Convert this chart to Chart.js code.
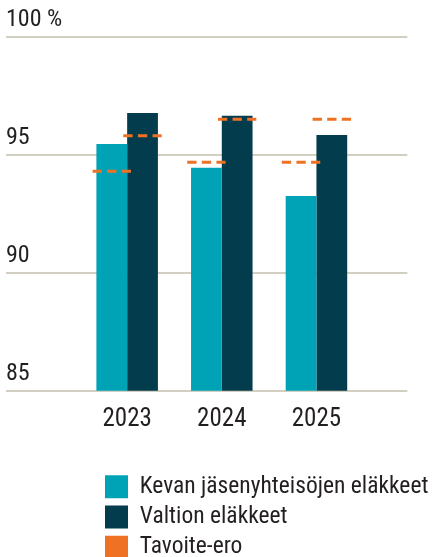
<!DOCTYPE html>
<html lang="fi">
<head>
<meta charset="utf-8">
<title>Eläkkeet</title>
<script src="https://cdn.jsdelivr.net/npm/chart.js@4.4.1/dist/chart.umd.min.js"></script>
<style>
  html, body { margin: 0; padding: 0; background: #fff; }
</style>
</head>
<body>
<canvas id="chart" width="438" height="557"></canvas>
<script>
const vuodet = [2023, 2024, 2025];
const kevaArvot = [95.45, 94.45, 93.25];
const valtioArvot = [96.77, 96.65, 95.83];
const kevaTavoite = [94.3, 94.68, 94.68];
const valtioTavoite = [95.8, 96.5, 96.5];
const yTicks = [85, 90, 95, 100];

const TURKOOSI = '#00a3b5';
const TUMMA = '#033c4c';
const ORANSSI = '#ef7123';
const RUUDUKKO = '#d4cfc3';
const FONTTI = 'Roboto';

Chart.defaults.color = '#231f20';

// tavoitteet katkoviivoina pylväiden kohdalle
const tavoiteViivat = {
  id: 'tavoiteViivat',
  afterDatasetsDraw(chart) {
    const ctx = chart.ctx;
    const y = chart.scales.y;
    ctx.save();
    ctx.strokeStyle = ORANSSI;
    ctx.lineWidth = 3;
    ctx.setLineDash([9.3, 5.3]);
    chart.data.datasets.forEach((ds, i) => {
      chart.getDatasetMeta(i).data.forEach((bar, j) => {
        const py = y.getPixelForValue(ds.tavoite[j]);
        ctx.beginPath();
        ctx.moveTo(bar.x - 19.2, py);
        ctx.lineTo(bar.x + 19.2, py);
        ctx.stroke();
      });
    });
    ctx.restore();
  }
};

// selite siirretään pylväiden alle
const selitteenPaikka = {
  id: 'selitteenPaikka',
  afterLayout(chart) {
    const lg = chart.legend;
    lg.left = 98.3;
    lg.top = 468.3;
    lg.right = chart.width;
    lg.bottom = chart.height + 60;
    lg.width = lg.right - lg.left;
    lg.height = lg.bottom - lg.top;
  }
};

new Chart(document.getElementById('chart'), {
  type: 'bar',
  data: {
    datasets: [
      {
        label: 'Kevan jäsenyhteisöjen eläkkeet',
        data: vuodet.map((x, i) => ({x, y: kevaArvot[i]})),
        tavoite: kevaTavoite,
        backgroundColor: TURKOOSI
      },
      {
        label: 'Valtion eläkkeet',
        data: vuodet.map((x, i) => ({x, y: valtioArvot[i]})),
        tavoite: valtioTavoite,
        backgroundColor: TUMMA
      }
    ]
  },
  options: {
    responsive: false,
    animation: false,
    categoryPercentage: 0.65,
    barPercentage: 1,
    layout: { padding: { top: 36.7, left: 5, right: 30.7, bottom: 0 } },
    scales: {
      x: {
        type: 'linear',
        min: 2021.72,
        max: 2025.96,
        offset: false,
        grid: { display: false, drawTicks: false },
        border: { display: false },
        afterBuildTicks: s => { s.ticks = vuodet.map(v => ({value: v})); },
        afterFit: s => { s.height = 166.3; },
        ticks: {
          padding: 14,
          font: { family: FONTTI, weight: 'condensed', size: 25 },
          callback: v => String(v)
        }
      },
      y: {
        min: 85,
        max: 100,
        border: { display: false },
        grid: { color: RUUDUKKO, lineWidth: 2, drawTicks: false },
        afterBuildTicks: s => { s.ticks = yTicks.map(v => ({value: v})); },
        ticks: {
          mirror: true,
          padding: 0,
          labelOffset: -16.5,
          font: { family: FONTTI, weight: 'condensed', size: 24 },
          callback: v => v === 100 ? '100 %' : String(v)
        }
      }
    },
    plugins: {
      tooltip: { enabled: false },
      legend: {
        position: 'left',
        align: 'start',
        maxWidth: 1,
        labels: {
          boxWidth: 23,
          boxHeight: 23,
          padding: 6.7,
          font: { family: FONTTI, weight: 'semi-condensed', size: 23.5 },
          generateLabels: chart => {
            const items = Chart.defaults.plugins.legend.labels.generateLabels(chart);
            items.push({
              text: 'Tavoite-ero',
              fillStyle: ORANSSI,
              strokeStyle: ORANSSI,
              lineWidth: 0,
              hidden: false,
              datasetIndex: -1
            });
            return items;
          }
        }
      }
    }
  },
  plugins: [tavoiteViivat, selitteenPaikka]
});
</script>
</body>
</html>
